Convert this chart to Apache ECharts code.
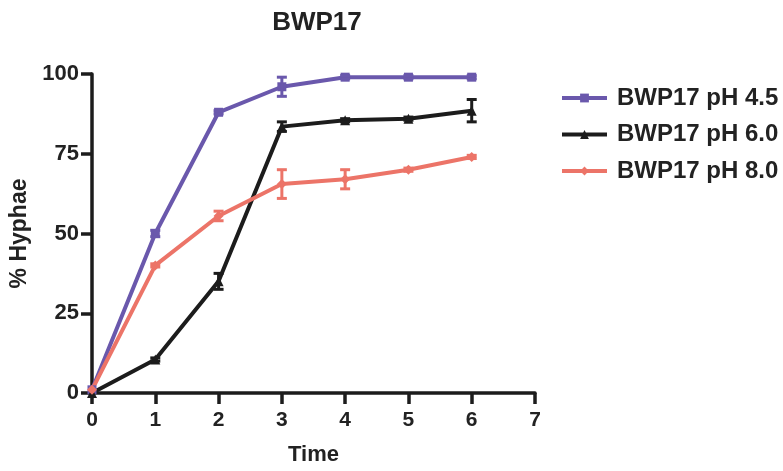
<!DOCTYPE html>
<html>
<head>
<meta charset="utf-8">
<script src="https://cdn.jsdelivr.net/npm/echarts@6/dist/echarts.min.js"></script>
<style>
  html, body { margin: 0; padding: 0; background: #ffffff; }
  #chart { width: 783px; height: 471px; }
</style>
</head>
<body>
<div id="chart"></div>
<script>
// Time points (x values)
const times = [0, 1, 2, 3, 4, 5, 6];

// % Hyphae per condition
const ph45 = [1, 50, 88, 96, 99, 99, 99];
const ph60 = [0, 10.5, 35, 83.5, 85.5, 86, 88.5];
const ph80 = [1, 40, 55.5, 65.5, 67, 70, 74];

// Error (± SD) per point
const ph45Err = [0, 1, 0.5, 3, 0.5, 0.5, 0.5];
const ph60Err = [0, 0.5, 2.5, 1.5, 0.5, 0.5, 3.5];
const ph80Err = [0, 0.5, 1.5, 4.5, 3, 0.5, 0.5];

const seriesNames = ['BWP17 pH 4.5', 'BWP17 pH 6.0', 'BWP17 pH 8.0'];
const colors = ['#6a58ac', '#1c1c1c', '#ec7468'];
const symbols = ['rect', 'triangle', 'diamond'];
const yTicks = [0, 25, 50, 75, 100];

const FONT = '"Liberation Sans", Arial, sans-serif';
const INK = '#222222';

function pairs(vals) {
  return times.map((t, i) => [t, vals[i]]);
}

function errData(vals, errs) {
  return times.map((t, i) => [t, vals[i] - errs[i], vals[i] + errs[i]]);
}

function errorSeries(vals, errs, color) {
  return {
    type: 'custom',
    data: errData(vals, errs),
    z: 5,
    silent: true,
    renderItem: function (params, api) {
      const x = api.value(0);
      const lo = api.coord([x, api.value(1)]);
      const hi = api.coord([x, api.value(2)]);
      if (Math.abs(hi[1] - lo[1]) < 2) return null;
      const w = 5;
      const style = { stroke: color, lineWidth: 3 };
      return {
        type: 'group',
        children: [
          { type: 'line', shape: { x1: lo[0], y1: lo[1], x2: hi[0], y2: hi[1] }, style: style },
          { type: 'line', shape: { x1: lo[0] - w, y1: lo[1], x2: lo[0] + w, y2: lo[1] }, style: style },
          { type: 'line', shape: { x1: hi[0] - w, y1: hi[1], x2: hi[0] + w, y2: hi[1] }, style: style }
        ]
      };
    }
  };
}

const allVals = [ph45, ph60, ph80];
const allErrs = [ph45Err, ph60Err, ph80Err];

const lineSeries = allVals.map((vals, i) => ({
  name: seriesNames[i],
  type: 'line',
  data: pairs(vals),
  symbol: symbols[i],
  symbolSize: i === 0 ? 9 : 10,
  showSymbol: true,
  itemStyle: { color: colors[i] },
  lineStyle: { color: colors[i], width: 4 },
  z: 4
}));

const errSeries = allVals.map((vals, i) => errorSeries(vals, allErrs[i], colors[i]));

const chart = echarts.init(document.getElementById('chart'), null, { renderer: 'canvas' });

chart.setOption({
  backgroundColor: '#ffffff',
  animation: false,
  title: {
    text: 'BWP17',
    left: 312,
    top: 5,
    textAlign: 'center',
    textStyle: { fontFamily: FONT, fontWeight: 'bold', fontSize: 26, color: INK }
  },
  legend: {
    data: seriesNames,
    orient: 'vertical',
    left: 560,
    top: 85,
    padding: 0,
    itemGap: 10.5,
    itemWidth: 45,
    itemHeight: 11,
    lineStyle: { width: 4 },
    textStyle: {
      fontFamily: FONT, fontWeight: 'bold', fontSize: 24, lineHeight: 26, color: INK,
      padding: [0, 0, 0, 5]
    }
  },
  grid: { left: 92, right: 248, top: 74, bottom: 78 },
  xAxis: {
    type: 'value',
    min: 0,
    max: 7,
    interval: 1,
    name: 'Time',
    nameLocation: 'middle',
    nameGap: 51,
    nameTextStyle: { fontFamily: FONT, fontWeight: 'bold', fontSize: 22, color: INK },
    axisLine: { show: true, lineStyle: { color: '#1c1c1c', width: 3.5 } },
    axisTick: { show: true, length: 11, lineStyle: { color: '#1c1c1c', width: 3.5 } },
    axisLabel: { fontFamily: FONT, fontWeight: 'bold', fontSize: 21, color: INK, margin: 17 },
    splitLine: { show: false }
  },
  yAxis: {
    type: 'value',
    min: 0,
    max: 100,
    interval: 25,
    name: '% Hyphae',
    nameLocation: 'middle',
    nameGap: 60,
    nameTextStyle: { fontFamily: FONT, fontWeight: 'bold', fontSize: 23, color: INK },
    axisLine: { show: true, lineStyle: { color: '#1c1c1c', width: 3.5 } },
    axisTick: { show: true, length: 11, lineStyle: { color: '#1c1c1c', width: 3.5 } },
    axisLabel: {
      fontFamily: FONT, fontWeight: 'bold', fontSize: 22, color: INK, margin: 13,
      formatter: function (v) { return yTicks.indexOf(v) >= 0 ? String(v) : ''; }
    },
    splitLine: { show: false }
  },
  series: lineSeries.concat(errSeries)
});
</script>
</body>
</html>
